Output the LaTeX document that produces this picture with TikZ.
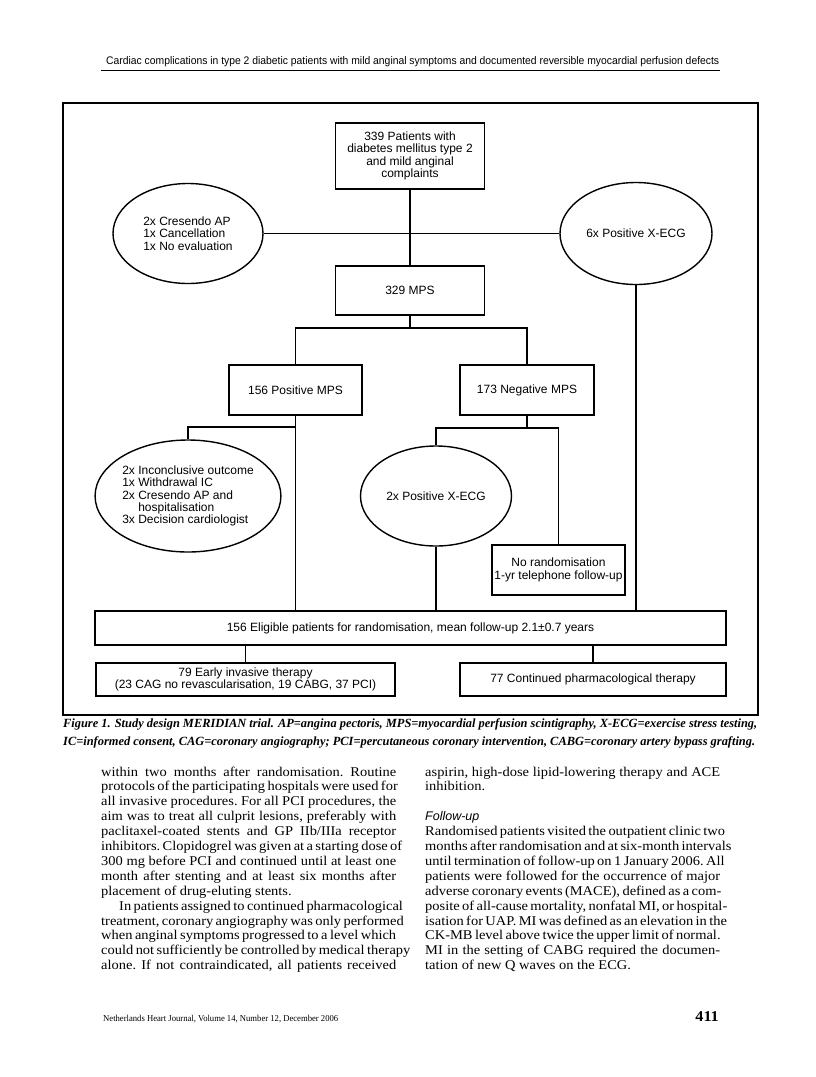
\documentclass[tikz,border=0pt]{standalone}
\usepackage{fontspec}
\usepackage{graphicx}
\setmainfont[FakeStretch=1.08]{Liberation Serif}
\newfontfamily\dsans{Liberation Sans}
\usetikzlibrary{shapes.geometric}
\newcommand\dfont{\dsans\fontsize{12bp}{12.4bp}\selectfont}
\newlength\colw \setlength\colw{295bp}
\newcommand\jl[1]{\hbox to \colw{#1}}
\newcommand\jr[1]{\hbox to \colw{#1\hfil}}
\newcommand\bodyfont{\fontsize{13.4bp}{14.9bp}\selectfont\frenchspacing\baselineskip=14.9bp\lineskiplimit=-100bp\lineskip=0bp}
\tikzset{
  box/.style={draw, line width=1.4bp, rectangle, inner sep=0pt, align=center, font=\dfont},
  oval/.style={draw, line width=1.4bp, ellipse, inner sep=0pt, align=center, font=\dfont},
  conn/.style={line width=1.4bp},
  plain/.style={inner sep=0pt}
}
\begin{document}
\begin{tikzpicture}[x=1bp, y=-1bp]
\useasboundingbox (0,0) rectangle (816,1077);
\fill[white] (0,0) rectangle (816,1077);

% header
\node[plain, anchor=base west] (head) at (106,64) {\resizebox{613bp}{\height}{\dsans\fontsize{11bp}{13bp}\selectfont Cardiac complications in type 2 diabetic patients with mild anginal symptoms and documented reversible myocardial perfusion defects}};
\draw[line width=0.9bp] (101,70) -- (720,70);

% frame
\draw[line width=1.3bp] (63,103) rectangle (758,715);

% nodes
\node[box, minimum width=149bp, minimum height=66bp] (top) at (410,156) {339 Patients with\\diabetes mellitus type 2\\and mild anginal\\complaints};
\node[oval, minimum width=150bp, minimum height=100bp, align=left] (ell1) at (188,233.5) {2x Cresendo AP\\1x Cancellation\\1x No evaluation};
\node[oval, minimum width=152bp, minimum height=102bp] (ell2) at (636,233.5) {6x Positive X-ECG};
\node[box, minimum width=149bp, minimum height=49bp] (mps) at (410,290.5) {329 MPS};
\node[box, minimum width=133bp, minimum height=50bp] (pos) at (295.5,390) {156 Positive MPS};
\node[box, minimum width=134bp, minimum height=50bp] (neg) at (527,390) {173 Negative MPS};
\node[oval, minimum width=164bp, minimum height=112bp, align=left] (ell3) at (188,496) {2x Inconclusive outcome\\1x Withdrawal IC\\2x Cresendo AP and\\\hphantom{2x\ }hospitalisation\\3x Decision cardiologist};
\node[oval, minimum width=151bp, minimum height=100bp] (ell4) at (436,496) {2x Positive X-ECG};
\node[box, minimum width=133bp, minimum height=50bp] (norand) at (558.5,570) {No randomisation\\1-yr telephone follow-up};
\node[box, minimum width=631bp, minimum height=34bp] (elig) at (410.5,628) {156 Eligible patients for randomisation, mean follow-up 2.1±0.7 years};
\node[box, minimum width=299bp, minimum height=33bp] (early) at (245.5,679.5) {79 Early invasive therapy\\(23 CAG no revascularisation, 19 CABG, 37 PCI)};
\node[box, minimum width=266bp, minimum height=33bp] (cont) at (593,679.5) {77 Continued pharmacological therapy};

% connectors
\coordinate (j1) at (410,328);
\coordinate (j2) at (295.5,427);
\coordinate (j3) at (527,428);
\draw[conn] (top.south) -- (mps.north);
\draw[conn] (ell1.east) -- (ell2.west);
\draw[conn] (mps.south) -- (j1);
\draw[conn] (pos.north) |- (j1) -| (neg.north);
\draw[conn] (pos.south) -- (pos.south |- elig.north);
\draw[conn] (j2) -| (ell3.north);
\draw[conn] (neg.south) -- (j3);
\draw[conn] (ell4.north) |- (j3) -| (norand.north);
\draw[conn] (ell4.south) -- (ell4.south |- elig.north);
\draw[conn] (ell2.south) -- (ell2.south |- elig.north);
\draw[conn] (early.north) -- (early.north |- elig.south);
\draw[conn] (cont.north) -- (cont.north |- elig.south);

% caption
\node[plain, anchor=base west] (cap1) at (63,727) {\resizebox{694bp}{\height}{\fontsize{12.5bp}{14bp}\selectfont\bfseries\itshape Figure 1. Study design MERIDIAN trial. AP=angina pectoris, MPS=myocardial perfusion scintigraphy, X-ECG=exercise stress testing,}};
\node[plain, anchor=base west] (cap2) at (63,745) {\resizebox{692bp}{\height}{\fontsize{12.5bp}{14bp}\selectfont\bfseries\itshape IC=informed consent, CAG=coronary angiography; PCI=percutaneous coronary intervention, CABG=coronary artery bypass grafting.}};

% body text
\node[plain, anchor=base west] (colL) at (101,969.7) {\vbox{\bodyfont
\jl{within two months after randomisation. Routine}
\jl{protocols of the participating hospitals were used for}
\jl{all invasive procedures. For all PCI procedures, the}
\jl{aim was to treat all culprit lesions, preferably with}
\jl{paclitaxel-coated stents and GP IIb/IIIa receptor}
\jl{inhibitors. Clopidogrel was given at a starting dose of}
\jl{300 mg before PCI and continued until at least one}
\jl{month after stenting and at least six months after}
\jr{placement of drug-eluting stents.}
\jl{\hspace*{18bp}In patients assigned to continued pharmacological}
\jl{treatment, coronary angiography was only performed}
\jl{when anginal symptoms progressed to a level which}
\jl{could not sufficiently be controlled by medical therapy}
\jl{alone. If not contraindicated, all patients received}
}};
\node[plain, anchor=base west] (colR) at (425,969.7) {\vbox{\bodyfont
\jl{aspirin, high-dose lipid-lowering therapy and ACE}
\jr{inhibition.}
\hbox{}
\jr{\dsans\itshape\fontsize{12.5bp}{14bp}\selectfont Follow-up}
\jl{Randomised patients visited the outpatient clinic two}
\jl{months after randomisation and at six-month intervals}
\jl{until termination of follow-up on 1 January 2006. All}
\jl{patients were followed for the occurrence of major}
\jl{adverse coronary events (MACE), defined as a com-}
\jl{posite of all-cause mortality, nonfatal MI, or hospital-}
\jl{isation for UAP. MI was defined as an elevation in the}
\jl{CK-MB level above twice the upper limit of normal.}
\jl{MI in the setting of CABG required the documen-}
\jr{tation of new Q waves on the ECG.}
}};

% footer
\node[plain, anchor=base west] (foot) at (103,1021) {\resizebox{235bp}{\height}{\fontsize{9bp}{10bp}\selectfont Netherlands Heart Journal, Volume 14, Number 12, December 2006}};
\node[plain, anchor=base east] (pg) at (719,1021) {\fontsize{15bp}{16bp}\selectfont\bfseries 411};
\end{tikzpicture}
\end{document}
